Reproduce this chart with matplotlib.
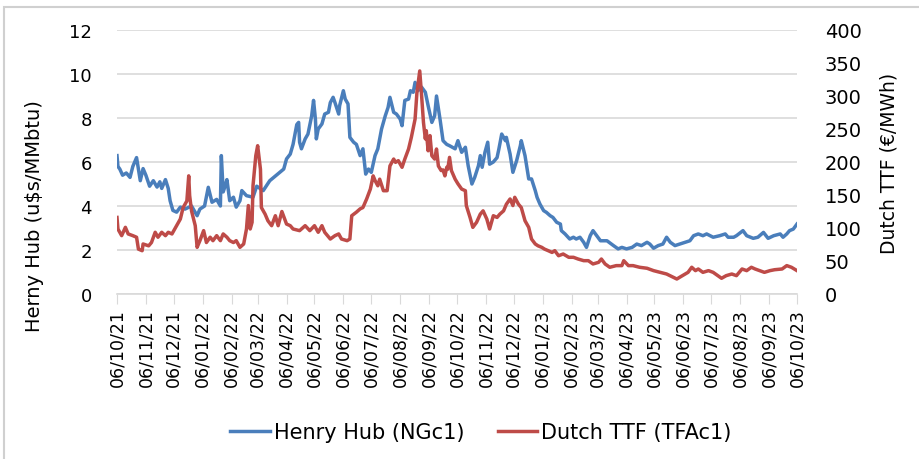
import datetime as dt
import matplotlib
matplotlib.use("Agg")
import matplotlib.pyplot as plt
import matplotlib.dates as mdates
from matplotlib.patches import Rectangle

start = dt.date(2021, 10, 6)
end = dt.date(2023, 10, 6)

# Henry Hub (u$s/MMbtu): days since 06/10/21 and price
hh_day = [0, 1, 3, 6, 10, 14, 17, 21, 25, 28, 31, 33, 35, 39, 43, 46, 48, 52, 55, 57,
          60, 64, 68, 73, 80, 86, 89, 94, 98, 102, 107, 111, 112, 114, 116, 118, 121, 125, 128, 132,
          134, 139, 146, 150, 157, 164, 171, 179, 182, 186, 189, 193, 195, 196, 198, 202, 205, 209, 211, 213,
          214, 216, 220, 223, 227, 229, 232, 234, 238, 239, 243, 245, 248, 250, 254, 257, 261, 264, 267, 270,
          273, 277, 280, 284, 288, 291, 293, 297, 300, 304, 306, 309, 313, 315, 318, 320, 323, 327, 331, 334,
          338, 341, 343, 347, 350, 354, 357, 363, 366, 370, 374, 377, 381, 384, 388, 390, 392, 395, 398, 400,
          404, 408, 410, 413, 417, 418, 422, 425, 429, 433, 434, 438, 442, 445, 449, 451, 454, 458, 461, 465,
          468, 472, 476, 477, 481, 486, 490, 493, 497, 501, 504, 508, 511, 515, 519, 526, 533, 538, 542, 547,
          553, 558, 563, 569, 572, 576, 581, 586, 590, 594, 599, 604, 610, 615, 619, 624, 629, 633, 640, 647,
          653, 656, 662, 665, 672, 676, 683, 688, 694, 699, 705, 712, 715, 719, 722, 726, 730]
hh_val = [6.29, 5.8, 5.68, 5.4, 5.5, 5.3, 5.8, 6.2, 5.15, 5.7, 5.4, 5.15, 4.9, 5.15, 4.86, 5.1, 4.8, 5.2, 4.8, 4.24,
          3.8, 3.72, 3.95, 3.86, 4.0, 3.56, 3.86, 4.0, 4.85, 4.17, 4.3, 4.0, 6.29, 4.64, 4.9, 5.2, 4.24, 4.4, 3.95, 4.24,
          4.7, 4.47, 4.4, 4.9, 4.7, 5.15, 5.4, 5.68, 6.14, 6.36, 6.8, 7.7, 7.8, 6.9, 6.6, 7.05, 7.27, 8.1, 8.8, 7.95,
          7.05, 7.5, 7.73, 8.18, 8.26, 8.7, 8.94, 8.7, 8.18, 8.56, 9.24, 8.86, 8.64, 7.12, 6.9, 6.8, 6.29, 6.6, 5.45, 5.68,
          5.53, 6.29, 6.6, 7.5, 8.1, 8.48, 8.94, 8.26, 8.18, 7.95, 7.65, 8.8, 8.86, 9.24, 9.17, 9.62, 9.24, 9.4, 9.17, 8.56,
          7.8, 8.1, 9.0, 7.88, 6.97, 6.8, 6.74, 6.6, 6.97, 6.44, 6.67, 5.83, 5.0, 5.3, 5.83, 6.29, 5.76, 6.44, 6.9, 5.9,
          6.0, 6.2, 6.6, 7.27, 6.97, 7.12, 6.36, 5.53, 6.06, 6.74, 6.97, 6.29, 5.23, 5.23, 4.7, 4.39, 4.09, 3.79, 3.71, 3.56,
          3.48, 3.26, 3.18, 2.88, 2.73, 2.5, 2.58, 2.5, 2.58, 2.35, 2.12, 2.65, 2.88, 2.65, 2.42, 2.42, 2.2, 2.05, 2.12, 2.05,
          2.12, 2.27, 2.2, 2.35, 2.27, 2.08, 2.2, 2.27, 2.58, 2.35, 2.2, 2.27, 2.35, 2.42, 2.65, 2.73, 2.65, 2.73, 2.58, 2.65,
          2.73, 2.58, 2.58, 2.65, 2.88, 2.65, 2.53, 2.58, 2.8, 2.53, 2.65, 2.73, 2.58, 2.73, 2.88, 2.95, 3.18]

# Dutch TTF (EUR/MWh): days since 06/10/21 and price
ttf_day = [0, 1, 5, 9, 12, 17, 21, 23, 27, 28, 34, 37, 41, 44, 48, 52, 55, 59, 64, 68,
           71, 75, 77, 78, 80, 84, 86, 89, 93, 96, 100, 103, 107, 111, 114, 118, 121, 125, 128, 132,
           136, 139, 141, 143, 145, 146, 149, 151, 154, 155, 159, 162, 166, 170, 173, 177, 182, 186, 189, 196,
           202, 207, 212, 216, 220, 223, 229, 234, 238, 241, 247, 250, 252, 257, 261, 264, 268, 272, 275, 277,
           280, 282, 286, 290, 293, 297, 299, 302, 306, 309, 313, 316, 320, 322, 325, 327, 329, 331, 332, 334,
           336, 338, 341, 343, 345, 348, 350, 352, 354, 355, 357, 359, 363, 366, 370, 374, 375, 379, 382, 386,
           390, 393, 397, 400, 404, 408, 411, 415, 418, 422, 425, 427, 431, 434, 438, 442, 445, 449, 452, 456,
           459, 463, 467, 470, 474, 479, 485, 490, 495, 501, 506, 511, 517, 520, 524, 529, 536, 542, 544, 549,
           554, 561, 569, 576, 583, 590, 595, 601, 604, 610, 613, 617, 621, 624, 629, 635, 640, 645, 649, 654,
           660, 665, 671, 676, 681, 685, 690, 695, 701, 706, 714, 719, 724, 730]
ttf_val = [116, 98.5, 88.4, 101, 91, 88.4, 86, 68, 65.6, 75.8, 73, 78, 93.5, 86, 93.5, 88.4, 93.5, 91, 103.5, 113.6,
           131, 141, 179, 149, 126, 103.5, 70.7, 80.8, 96, 78, 86, 80.8, 88.4, 80.8, 91, 86, 80.8, 78, 80.8, 70.7,
           75.8, 98.5, 134, 98.5, 108.6, 164, 209.5, 224.7, 189, 131, 121, 111, 103.5, 118.6, 103.5, 125, 106, 103.5, 98.5, 96,
           103.5, 96, 103.5, 93.5, 103.5, 93.5, 83.3, 88.4, 91, 83.3, 80.8, 83.3, 118.6, 124, 129, 131, 144, 159, 179, 172,
           164, 174, 156.5, 156.5, 194, 204.5, 199.5, 202, 192, 204.5, 219.7, 237.4, 265, 305.6, 338, 300.5, 260, 235, 247.5, 217,
           240, 209.5, 204.5, 219.7, 194, 187, 188, 179, 192, 189, 207, 187, 174, 167, 159, 156.5, 134, 116, 101, 108.6,
           121, 126, 113.6, 98.5, 118.6, 116, 121, 126, 136, 144, 134, 146.5, 136, 131, 111, 101, 83.3, 75.8, 73, 70.7,
           68, 65.6, 63, 65.6, 58, 60.6, 55.6, 55.6, 53, 50.5, 50.5, 45.5, 48, 53, 45.5, 40.5, 43, 43, 50.5, 43,
           43, 40.5, 39, 35.4, 32.8, 30.3, 26.8, 22.7, 25.3, 30.3, 32.8, 40.5, 35.4, 37.9, 32.8, 35.4, 32.8, 27.8, 23.8, 27.8,
           30.3, 27.8, 37.9, 35.4, 40.5, 37.9, 35.4, 32.8, 35.4, 36.8, 37.9, 43, 40.5, 35.4]

hh_dates = [start + dt.timedelta(days=d) for d in hh_day]
ttf_dates = [start + dt.timedelta(days=d) for d in ttf_day]

blue = "#4a7ebb"
red = "#be4b48"
grid = "#d9d9d9"

fig = plt.figure(figsize=(9.19, 4.6), dpi=100)
ax = fig.add_axes([117 / 919, 1 - 295 / 460, 680 / 919, 264 / 460])
ax2 = ax.twinx()

ax.plot(hh_dates, hh_val, color=blue, lw=2.5, label="Henry Hub (NGc1)")
ax2.plot(ttf_dates, ttf_val, color=red, lw=2.5, label="Dutch TTF (TFAc1)")

ax.set_xlim(start, end)
ax.set_ylim(0, 12)
ax.set_yticks(range(0, 13, 2))
ax2.set_ylim(0, 400)
ax2.set_yticks(range(0, 401, 50))

ax.xaxis.set_major_locator(mdates.MonthLocator(bymonthday=6))
ax.xaxis.set_major_formatter(mdates.DateFormatter("%d/%m/%y"))
ax.tick_params(axis="x", rotation=90, labelsize=12.5, length=7, color=grid, pad=3)
ax.tick_params(axis="y", labelsize=13, length=0, pad=18)
ax2.tick_params(axis="y", labelsize=14, length=0, pad=20)

ax.grid(axis="y", color=grid, lw=1.2)
for a in (ax, ax2):
    for s in a.spines.values():
        s.set_visible(False)
ax.spines["bottom"].set_visible(True)
ax.spines["bottom"].set_color(grid)
ax.spines["bottom"].set_linewidth(1.2)

ax.set_ylabel("Herny Hub (u$s/MMbtu)", fontsize=14)
ax.yaxis.set_label_coords(-0.108, 0.30)
ax2.set_ylabel("Dutch TTF (€/MWh)", fontsize=13.5)
ax2.yaxis.set_label_coords(1.122, 0.5)

h1, l1 = ax.get_legend_handles_labels()
h2, l2 = ax2.get_legend_handles_labels()
fig.legend(h1 + h2, l1 + l2, loc="center", bbox_to_anchor=(481 / 919, 1 - 433 / 460),
           ncol=2, frameon=False, fontsize=15, handlelength=1.9, handletextpad=0.2,
           columnspacing=1.6)

fig.patches.append(Rectangle((4 / 919, -0.1), 1.2, 1 - 8 / 460 + 0.1, transform=fig.transFigure,
                             fill=False, edgecolor="#d0d0d0", lw=1.5))

fig.savefig("out.png", dpi=100)
